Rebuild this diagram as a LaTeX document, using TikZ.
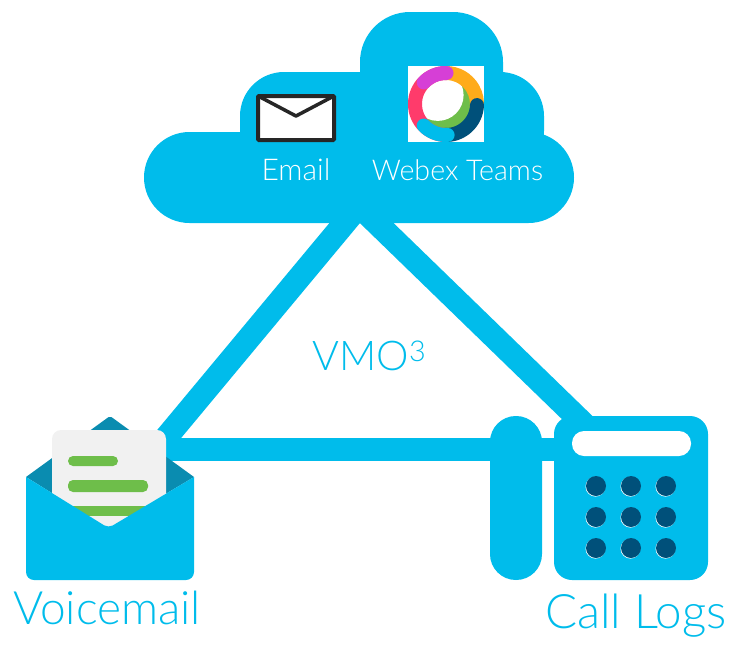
\documentclass[tikz,border=0pt]{standalone}
\usepackage{fontspec}
\setmainfont{Lato Light}
\definecolor{cisco}{HTML}{00BCEB}
\definecolor{flap}{HTML}{0A8CB0}
\definecolor{navy}{HTML}{00507A}
\definecolor{leaf}{HTML}{6EBE4A}
\definecolor{paper}{HTML}{F1F1F1}
\definecolor{amber}{HTML}{FFAB1A}
\definecolor{rose}{HTML}{FF3B6B}
\definecolor{violet}{HTML}{D63FD6}
\definecolor{inkdark}{HTML}{262626}
\tikzset{
  x=1pt,y=-1pt,
  linkline/.style={draw=cisco,line width=23.5pt},
  cloudpart/.style={fill=cisco,rounded corners=#1},
  whitelabel/.style={text=white,font=\fontsize{28.6}{32}\selectfont,inner sep=0pt},
  bluelabel/.style={text=cisco,font=\fontsize{46}{54}\selectfont,inner sep=0pt},
  keycap/.style={fill=navy},
  ringarc/.style={line width=14pt,line cap=round},
  greenbar/.style={fill=leaf,rounded corners=5pt},
}
\begin{document}
\begin{tikzpicture}
\useasboundingbox (0,0) rectangle (732,646);
% connector ends
\coordinate (apexL) at (363,201);
\coordinate (apexR) at (354,201);
\coordinate (vmL) at (165,439);
\coordinate (vmH) at (160,449);
\coordinate (phL) at (560,449);
\coordinate (phR) at (590,430);
% connectors
\draw[linkline] (apexL) -- (vmL);
\draw[linkline] (apexR) -- (phR);
\draw[linkline,line width=23pt] (vmH) -- (phL);
% cloud
\fill[cloudpart=50pt] (360,12) rectangle (503,125);
\fill[cloudpart=44pt] (240,72) rectangle (400,175);
\fill[cloudpart=44pt] (430,72) rectangle (544,175);
\fill[cisco] (380,72) rectangle (460,150);
\fill[cloudpart=45.5pt] (144,132) rectangle (574,223);
% email icon
\draw[draw=inkdark,fill=white,line width=4pt,rounded corners=1pt] (258,96) rectangle (334,140);
\draw[draw=inkdark,line width=3.5pt,line join=round] (260,97) -- (296,116) -- (332,97);
% webex icon
\fill[white] (408,66) rectangle (484,142);
\fill[leaf] (446,104) circle[radius=25pt];
\fill[white] (437.8,95.1) circle[radius=25.8pt];
\begin{scope}[y=1pt,shift={(446pt,-104pt)}]
\draw[rose,line width=14pt] (90:31) arc[start angle=90,end angle=270,radius=31];
\draw[amber,line width=14pt] (90:31) arc[start angle=90,end angle=-8,radius=31];
\draw[navy,ringarc] (-2:31) arc[start angle=-2,end angle=-92,radius=31];
\draw[cisco,ringarc] (-136:31) arc[start angle=-136,end angle=-87,radius=31];
\draw[violet,ringarc] (136:31) arc[start angle=136,end angle=89,radius=31];
\end{scope}
\node[whitelabel,font=\fontsize{30}{34}\selectfont] (email) at (296,170) {Email};
\node[whitelabel] (webex) at (457.5,170) {Webex Teams};
% centre label
\node[text=cisco,font=\fontsize{41}{48}\selectfont,inner sep=0pt] (vmo) at (369.5,356) {VMO\textsuperscript{3}};
% voicemail icon
\fill[flap] (26,477) [rounded corners=2pt] -- (110,416) [sharp corners] -- (194,477) -- (108.5,528) -- cycle;
\fill[paper,rounded corners=9pt] (52,430) rectangle (166,560);
\fill[greenbar] (68,456) rectangle (118,466);
\fill[greenbar] (68,480) rectangle (148,492);
\fill[leaf] (68,506) rectangle (148,516);
\fill[cisco,rounded corners=8pt] (26,520) -- (26,580) -- (194,580) -- (194,520) [sharp corners] -- (194,477) [rounded corners=5pt] -- (108.5,528) [sharp corners] -- (26,477) -- cycle;
\node[bluelabel] (voicemail) at (107,608) {Voicemail};
% phone icon
\fill[cisco,rounded corners=25.9pt] (490,416) rectangle (542,580);
\fill[cisco,rounded corners=18pt] (554,416) rectangle (708,580);
\fill[white,rounded corners=12pt] (572,431) rectangle (691,456);
\foreach \kx in {596,631,666}{
  \foreach \ky in {486,517,548}{
    \fill[white] (\kx-0.5,\ky+0.6) circle[radius=10pt];
    \fill[keycap] (\kx,\ky) circle[radius=10pt];
  }
}
\node[bluelabel,font=\fontsize{47.5}{54}\selectfont] (calllogs) at (636,616) {Call Logs};
\end{tikzpicture}
\end{document}
